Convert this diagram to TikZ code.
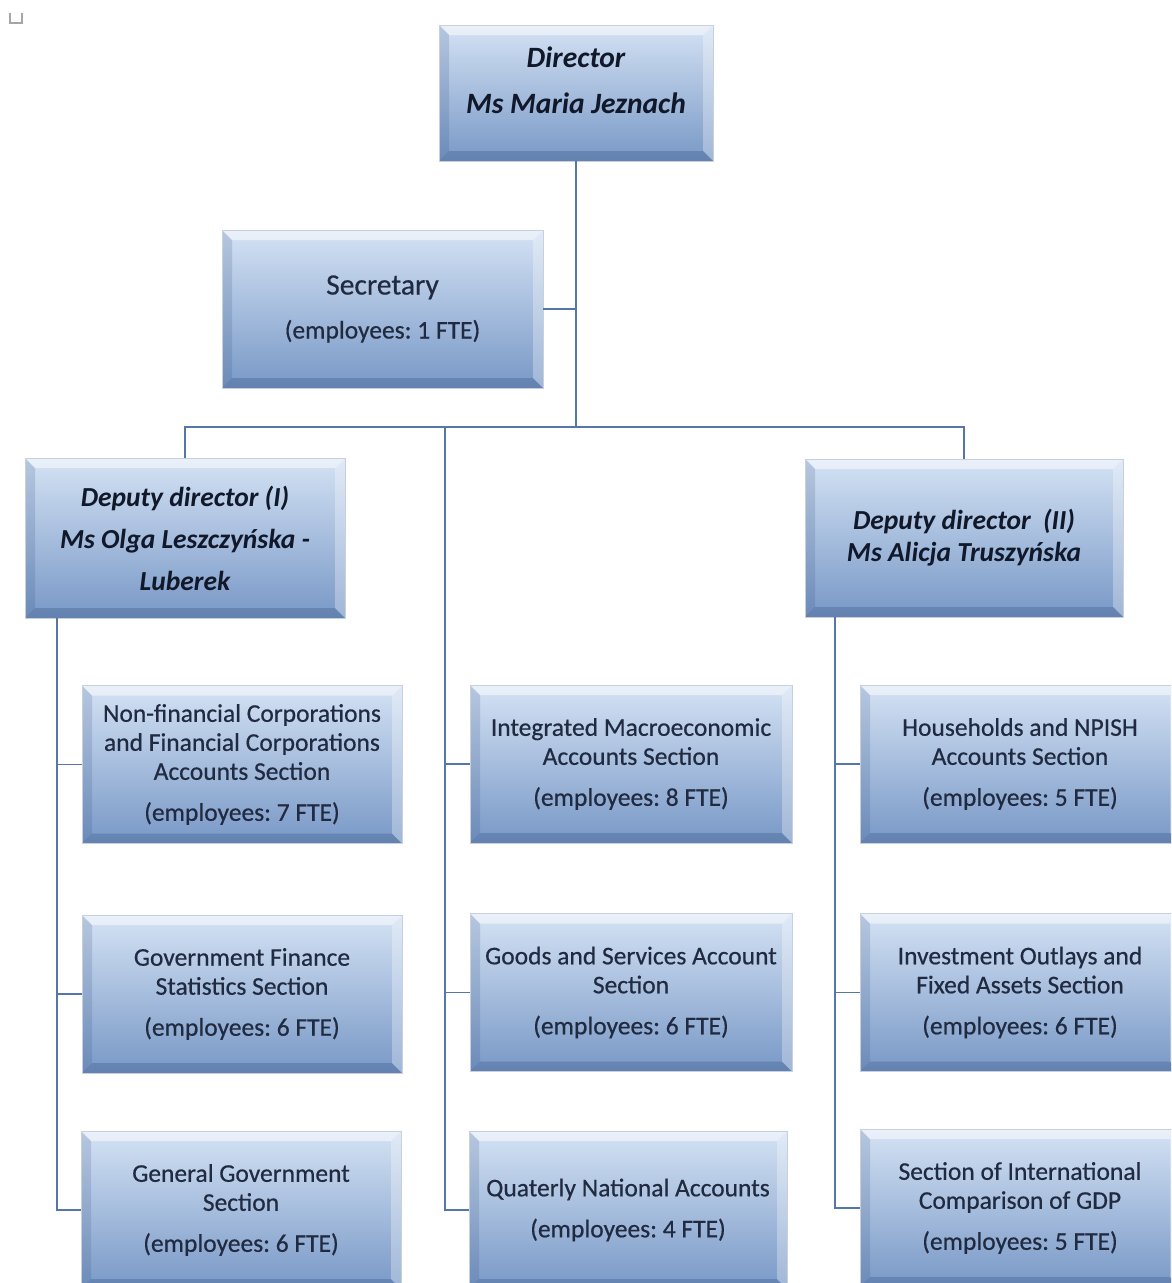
\documentclass[tikz,border=0pt]{standalone}
\usepackage{fontspec}
\setmainfont{Carlito}
\newfontfamily\boxfont{Carlito}[FakeBold=0.5]
\usetikzlibrary{calc}
\definecolor{boxtop}{RGB}{212,226,244}
\definecolor{boxbot}{RGB}{120,152,198}
\definecolor{linec}{RGB}{84,118,168}
\definecolor{txt}{RGB}{32,42,64}
\definecolor{txtb}{RGB}{16,24,42}
\definecolor{bevdark}{RGB}{50,80,130}
\definecolor{edgec}{RGB}{200,208,220}
\tikzset{
  orgbox/.style={rectangle, draw=edgec, line width=0.8pt,
    top color=boxtop, bottom color=boxbot, inner sep=0pt, align=center,
    text=txt, font=\boxfont\fontsize{25.5}{29}\selectfont\frenchspacing,
    path picture={
      \coordinate (pnw) at (path picture bounding box.north west);
      \coordinate (pse) at (path picture bounding box.south east);
      \coordinate (pne) at (pnw -| pse);
      \coordinate (psw) at (pse -| pnw);
      \fill[white,opacity=0.5] (pnw) -- (pne) -- ([xshift=-10pt,yshift=-10pt]pne) -- ([xshift=10pt,yshift=-10pt]pnw) -- cycle;
      \fill[bevdark,opacity=0.18] (pnw) -- ([xshift=10pt,yshift=-10pt]pnw) -- ([xshift=10pt,yshift=10pt]psw) -- (psw) -- cycle;
      \fill[white,opacity=0.3] (pne) -- ([xshift=-10pt,yshift=-10pt]pne) -- ([xshift=-10pt,yshift=10pt]pse) -- (pse) -- cycle;
      \fill[bevdark,opacity=0.3] (psw) -- ([xshift=10pt,yshift=10pt]psw) -- ([xshift=-10pt,yshift=10pt]pse) -- (pse) -- cycle;
    }},
  secbox/.style={orgbox, minimum width=320pt, minimum height=158pt},
  headfont/.style={font=\fontsize{27.5}{32}\selectfont\bfseries\itshape, text=txtb},
  conn/.style={draw=linec, line width=1.8pt},
}
\begin{document}
\begin{tikzpicture}[x=1pt,y=-1pt]
\useasboundingbox (0,0) rectangle (1171,1283);
\clip (0,0) rectangle (1171,1283);
\fill[white] (0,0) rectangle (1171,1283);
% small mark top-left
\draw[gray!70, line width=1.2pt] (10,13) -- (10,23) -- (22,23) -- (22,13);

% boxes
\node[orgbox, minimum width=274pt, minimum height=136pt] (dir) at (576,93) {};
\node[headfont, align=center, inner sep=0pt, font=\fontsize{29.5}{35}\selectfont\bfseries\itshape] (dirtext) at ([yshift=13pt]dir.center)
  {Director\\[11pt]Ms Maria Jeznach};
\node[orgbox, minimum width=321pt, minimum height=158pt] (sec) at (382.5,309)
  {{\fontsize{29.5}{29}\selectfont Secretary}\\[15pt](employees: 1 FTE)};
\node[orgbox, headfont, minimum width=320pt, minimum height=160pt] (dep1) at (185,538)
  {Deputy director (I)\\[10pt]Ms Olga Leszczyńska -\\[10pt]Luberek};
\node[orgbox, headfont, minimum width=318pt, minimum height=158pt] (dep2) at (964,538)
  {Deputy director\ \ (II)\\Ms Alicja Truszyńska};

\node[secbox] (nf) at (242,764.5)
  {Non-financial Corporations\\and Financial Corporations\\Accounts Section\\[12pt](employees: 7 FTE)};
\node[secbox] (gfs) at (242,994)
  {Government Finance\\Statistics Section\\[12pt](employees: 6 FTE)};
\node[secbox] (gg) at (241,1210)
  {General Government\\Section\\[12pt](employees: 6 FTE)};

\node[secbox, minimum width=322pt] (ima) at (631,764)
  {Integrated Macroeconomic\\Accounts Section\\[12pt](employees: 8 FTE)};
\node[secbox, minimum width=322pt] (gsa) at (631,992.5)
  {Goods and Services Account\\Section\\[12pt](employees: 6 FTE)};
\node[secbox, minimum width=318pt] (qna) at (628,1210)
  {Quaterly National Accounts\\[12pt](employees: 4 FTE)};

\node[secbox] (hh) at (1020,764)
  {Households and NPISH\\Accounts Section\\[12pt](employees: 5 FTE)};
\node[secbox] (io) at (1020,992.5)
  {Investment Outlays and\\Fixed Assets Section\\[12pt](employees: 6 FTE)};
\node[secbox] (sic) at (1020,1208)
  {Section of International\\Comparison of GDP\\[12pt](employees: 5 FTE)};

% connectors
\coordinate (bus) at (576,427);
\coordinate (midtop) at (445,427);
\coordinate (ltop) at ($(dep1.south west)+(32,0)$);
\coordinate (rtop) at ($(dep2.south west)+(30,0)$);

\draw[conn] (dir.south) -- (bus);
\draw[conn] (sec.east) -- (sec.east -| dir.south);
\draw[conn] (dep1.north) |- (bus) -| (dep2.north);
\draw[conn] (midtop) |- (qna.west);
\draw[conn] (ima.west -| midtop) -- (ima.west);
\draw[conn] (gsa.west -| midtop) -- (gsa.west);
\draw[conn] (ltop) |- (gg.west);
\draw[conn] (nf.west -| ltop) -- (nf.west);
\draw[conn] (gfs.west -| ltop) -- (gfs.west);
\draw[conn] (rtop) |- (sic.west);
\draw[conn] (hh.west -| rtop) -- (hh.west);
\draw[conn] (io.west -| rtop) -- (io.west);
\end{tikzpicture}
\end{document}
